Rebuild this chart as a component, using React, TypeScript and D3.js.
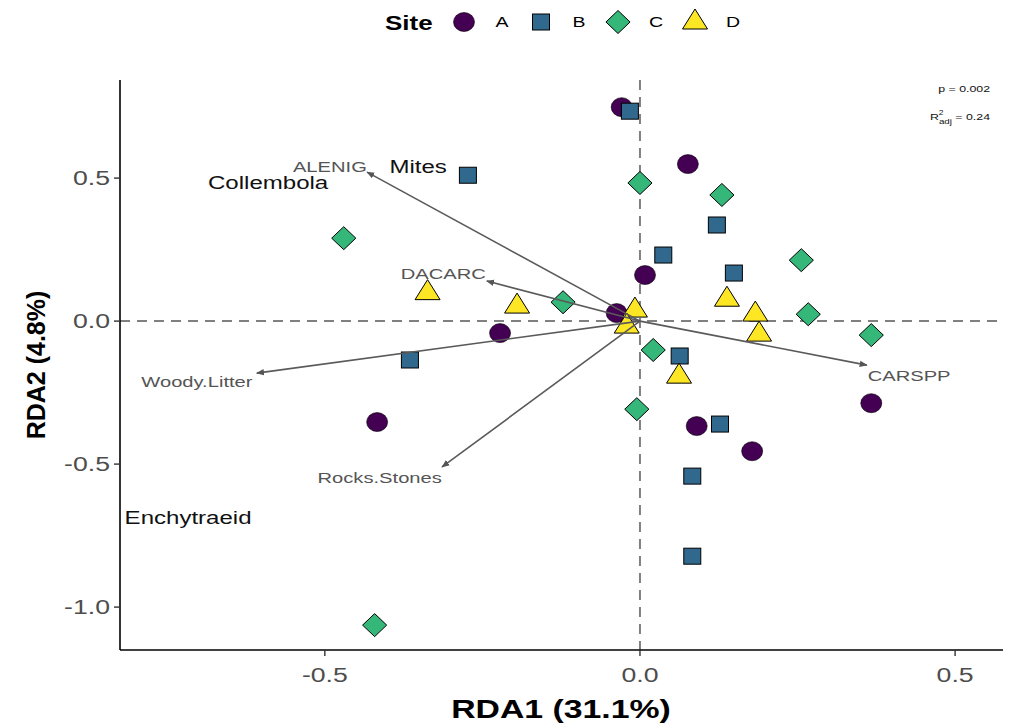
import React from "react";
import * as d3 from "d3";

const siteA = [
  [-0.029, 0.748], [0.076, 0.549], [0.008, 0.161], [-0.037, 0.028], [-0.222, -0.042],
  [-0.417, -0.353], [0.09, -0.367], [0.178, -0.455], [0.367, -0.287],
];
const siteB = [
  [-0.016, 0.734], [-0.273, 0.51], [0.037, 0.231], [0.122, 0.336], [0.149, 0.168],
  [-0.365, -0.136], [0.063, -0.122], [0.127, -0.36], [0.083, -0.542], [0.083, -0.822],
];
const siteC = [
  [0.0, 0.483], [0.13, 0.441], [-0.47, 0.29], [-0.122, 0.066], [0.256, 0.213],
  [0.267, 0.024], [0.367, -0.049], [0.021, -0.101], [-0.005, -0.308], [-0.421, -1.063],
];
const siteD = [
  [-0.337, 0.103], [-0.195, 0.056], [-0.008, 0.042], [-0.021, -0.014], [0.062, -0.189],
  [0.138, 0.08], [0.183, 0.028], [0.189, -0.042],
];

const envNames = ["ALENIG", "DACARC", "Woody.Litter", "Rocks.Stones", "CARSPP"];
const envTips = [[-0.433, 0.521], [-0.243, 0.14], [-0.608, -0.182], [-0.314, -0.51], [0.36, -0.154]];
const envLabelPos = [[-0.492, 0.54], [-0.312, 0.166], [-0.703, -0.212], [-0.413, -0.548], [0.427, -0.19]];

const speciesNames = ["Mites", "Collembola", "Enchytraeid"];
const speciesPos = [[-0.352, 0.538], [-0.59, 0.483], [-0.717, -0.689]];

const siteNames = ["A", "B", "C", "D"];
const siteColors = ["#440154", "#31688E", "#35B779", "#FDE725"];
const xTicks = [-0.5, 0, 0.5];
const yTicks = [0.5, 0, -0.5, -1];

const FONT = "'Liberation Sans', Arial, sans-serif";
const SX = 1.3;

function T({ x, y, anchor = "middle", size, weight, fill, base, children }: any) {
  return (
    <text
      transform={`translate(${x},${y}) scale(${SX},1)`}
      textAnchor={anchor}
      dominantBaseline={base}
      fontSize={size}
      fontWeight={weight}
      fill={fill}
    >
      {children}
    </text>
  );
}

function Shape({ kind, x, y, fill }: { kind: number; x: number; y: number; fill: string }) {
  const sw = 1;
  if (kind === 0) return <ellipse cx={x} cy={y} rx={10.5} ry={9.5} fill={fill} stroke="#000" strokeWidth={0.6} />;
  if (kind === 1) return <rect x={x - 8.5} y={y - 8} width={17} height={16} fill={fill} stroke="#000" strokeWidth={sw} />;
  if (kind === 2) {
    const r = 11.5;
    return <path d={`M${x},${y - r}L${x + r * 1.05},${y}L${x},${y + r}L${x - r * 1.05},${y}Z`} fill={fill} stroke="#000" strokeWidth={sw} />;
  }
  const h = 20, w = 12.5;
  return <path d={`M${x},${y - h * 0.6}L${x + w},${y + h * 0.4}L${x - w},${y + h * 0.4}Z`} fill={fill} stroke="#000" strokeWidth={sw} />;
}

export default function App() {
  const W = 1021, H = 728;
  const x = d3.scaleLinear().domain([-0.825, 0.576]).range([120, 1003]);
  const y = d3.scaleLinear().domain([-1.15, 0.843]).range([650, 80]);
  const sites = [siteA, siteB, siteC, siteD];
  const f = d3.format(".1f");
  const fmt = (v: number) => f(v).replace("\u2212", "-");
  const legendX = [464, 541, 618, 695];
  return (
    <svg width={W} height={H} style={{ position: "absolute", left: 0, top: 0, background: "#fff" }} fontFamily={FONT}>
      <defs>
        <marker id="ah" viewBox="0 0 10 10" refX="9" refY="5" markerWidth="5" markerHeight="5" orient="auto">
          <path d="M0,1L10,5L0,9Z" fill="#555" />
        </marker>
      </defs>
      <rect width={W} height={H} fill="#fff" />
      <line x1={x(-0.825)} x2={x(0.576)} y1={y(0)} y2={y(0)} stroke="#808080" strokeWidth={2} strokeDasharray="10,7" />
      <line x1={x(0)} x2={x(0)} y1={y(0.843)} y2={y(-1.15)} stroke="#808080" strokeWidth={2} strokeDasharray="10,7" />
      {sites.map((pts, k) =>
        pts.map((p, i) => <Shape key={`${k}-${i}`} kind={k} x={x(p[0])} y={y(p[1])} fill={siteColors[k]} />)
      )}
      {envTips.map((t, i) => (
        <line key={i} x1={x(0)} y1={y(0)} x2={x(t[0])} y2={y(t[1])} stroke="#5a5a5a" strokeWidth={1.6} markerEnd="url(#ah)" />
      ))}
      {envLabelPos.map((p, i) => (
        <T key={i} x={x(p[0])} y={y(p[1])} base="central" size={15.5} fill="#555">{envNames[i]}</T>
      ))}
      {speciesPos.map((p, i) => (
        <T key={i} x={x(p[0])} y={y(p[1])} base="central" size={18.5} fill="#111">{speciesNames[i]}</T>
      ))}
      <line x1={120} x2={1003} y1={650} y2={650} stroke="#000" strokeWidth={1.6} />
      <line x1={120} x2={120} y1={80} y2={650} stroke="#000" strokeWidth={1.6} />
      {xTicks.map((t) => (
        <g key={t}>
          <line x1={x(t)} x2={x(t)} y1={650} y2={656} stroke="#333" strokeWidth={1.4} />
          <T x={x(t)} y={682} size={20.5} fill="#4d4d4d">{fmt(t)}</T>
        </g>
      ))}
      {yTicks.map((t) => (
        <g key={t}>
          <line x1={114} x2={120} y1={y(t)} y2={y(t)} stroke="#333" strokeWidth={1.4} />
          <T x={110} y={y(t)} anchor="end" base="central" size={20.5} fill="#4d4d4d">{fmt(t)}</T>
        </g>
      ))}
      <T x={561} y={718} size={26} weight="bold" fill="#000">RDA1 (31.1%)</T>
      <text transform={`translate(45,365) rotate(-90)`} textAnchor="middle" fontSize={25} fontWeight="bold" fill="#000">RDA2 (4.8%)</text>
      <T x={990} y={92} anchor="end" size={9.5} fill="#111">p = 0.002</T>
      <T x={990} y={120} anchor="end" size={9.5} fill="#111">
        R<tspan dy={-5} fontSize={6.5}>2</tspan><tspan dy={9} dx={-3.5} fontSize={7.5}>adj</tspan><tspan dy={-4}> = 0.24</tspan>
      </T>
      <T x={385} y={30} anchor="start" size={20} weight="bold" fill="#000">Site</T>
      {siteNames.map((s, k) => (
        <g key={s}>
          <Shape kind={k} x={legendX[k]} y={k === 3 ? 21 : 22} fill={siteColors[k]} />
          <T x={legendX[k] + 38} y={22} base="central" size={15} fill="#000">{s}</T>
        </g>
      ))}
    </svg>
  );
}
